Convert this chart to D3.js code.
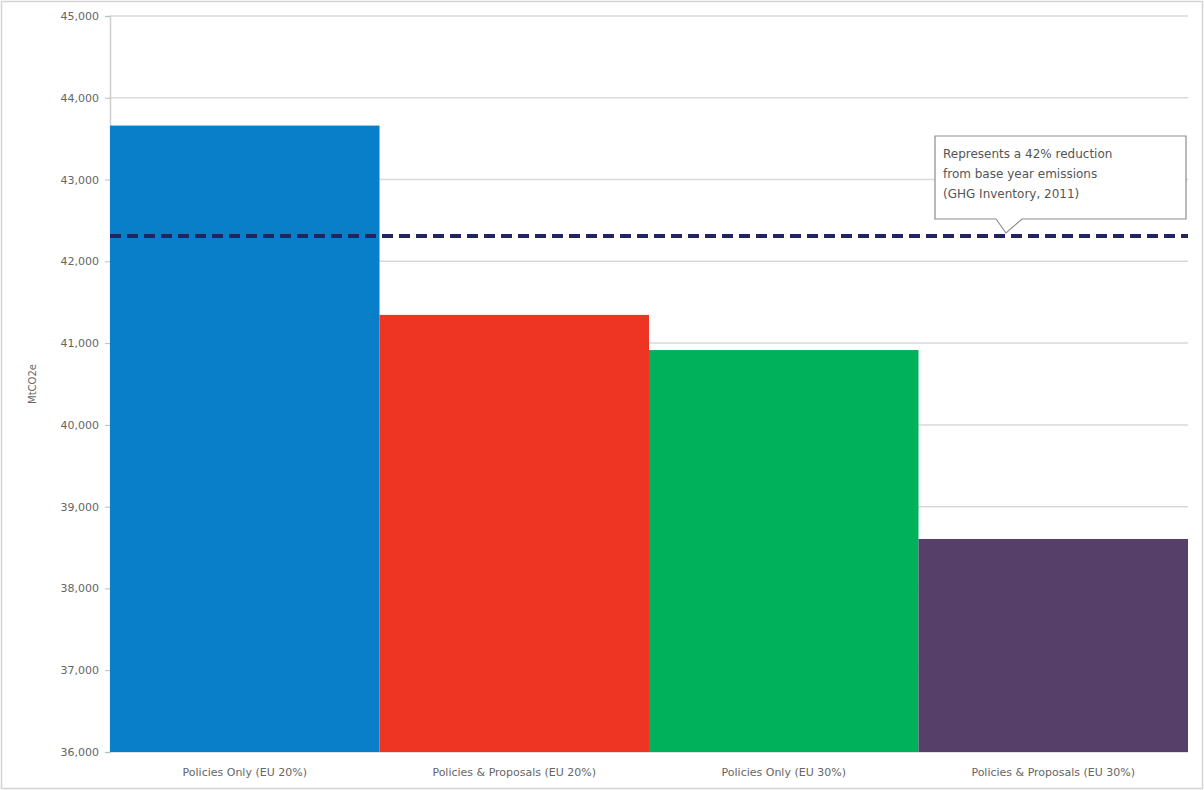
<!DOCTYPE html>
<html>
<head>
<meta charset="utf-8">
<script src="https://cdn.jsdelivr.net/npm/d3@7"></script>
<style>
body { margin: 0; background: #fff; }
text { font-family: "DejaVu Sans", Verdana, sans-serif; }
</style>
</head>
<body>
<svg id="chart" width="1204" height="790"></svg>
<script>
// scenario data
var Categories = ["Policies Only (EU 20%)", "Policies & Proposals (EU 20%)", "Policies Only (EU 30%)", "Policies & Proposals (EU 30%)"];
var Emissions = [43660, 41345, 40915, 38605];
var BarColors = ["#0a7fc9", "#ee3524", "#00b15c", "#563f68"];
var TickValues = [36000, 37000, 38000, 39000, 40000, 41000, 42000, 43000, 44000, 45000];
var TargetLine = 42310;
var CalloutLines = ["Represents a 42% reduction", "from base year emissions", "(GHG Inventory, 2011)"];

var svg = d3.select("#chart");
var margin = {left: 110, right: 16, top: 16, bottom: 38};
var W = 1204, H = 790;

// outer frame
svg.append("rect")
    .attr("x", 1.5).attr("y", 1.5)
    .attr("width", W - 3).attr("height", H - 3)
    .attr("fill", "#fff").attr("stroke", "#d4d4d4").attr("stroke-width", 1.5);

var x = d3.scaleBand()
    .domain(Categories)
    .range([margin.left, W - margin.right])
    .padding(0);

var y = d3.scaleLinear()
    .domain([36000, 45000])
    .range([H - margin.bottom, margin.top]);

// gridlines
svg.append("g").selectAll("line")
    .data(TickValues)
    .enter().append("line")
    .attr("x1", margin.left).attr("x2", W - margin.right)
    .attr("y1", function(d){ return y(d); })
    .attr("y2", function(d){ return y(d); })
    .attr("stroke", "#d9d9d9").attr("stroke-width", 1.5);

// y axis
var yAxis = d3.axisLeft(y)
    .tickValues(TickValues)
    .tickSize(5)
    .tickPadding(6)
    .tickFormat(d3.format(","));
var ya = svg.append("g")
    .attr("transform", "translate(" + margin.left + ",0)")
    .call(yAxis);
ya.select(".domain").attr("stroke", "#cfcfcf").attr("stroke-width", 1.5);
ya.selectAll(".tick line").attr("stroke", "#bdbdbd");
ya.selectAll(".tick text").attr("fill", "#666").style("font-size", "11px");

// bars
svg.append("g").selectAll("rect")
    .data(Emissions)
    .enter().append("rect")
    .attr("x", function(d,i){ return x(Categories[i]); })
    .attr("width", x.bandwidth())
    .attr("y", function(d){ return y(d); })
    .attr("height", function(d){ return y(36000) - y(d); })
    .attr("fill", function(d,i){ return BarColors[i]; });

// x labels
svg.append("g").selectAll("text")
    .data(Categories)
    .enter().append("text")
    .attr("x", function(d){ return x(d) + x.bandwidth()/2; })
    .attr("y", H - margin.bottom + 24)
    .attr("text-anchor", "middle")
    .attr("fill", "#666")
    .style("font-size", "11px")
    .text(function(d){ return d; });

// y axis title
svg.append("text")
    .attr("transform", "translate(36," + y(40500) + ") rotate(-90)")
    .attr("text-anchor", "middle")
    .attr("fill", "#666")
    .style("font-size", "10px")
    .text("MtCO2e");

// target dashed line
svg.append("line")
    .attr("x1", margin.left).attr("x2", W - margin.right)
    .attr("y1", y(TargetLine)).attr("y2", y(TargetLine))
    .attr("stroke", "#22245e").attr("stroke-width", 4)
    .attr("stroke-dasharray", "11,6");

// callout
var bx = 935, by = 136, bw = 251, bh = 83, px = 1006;
var ty = y(TargetLine) - 3;
svg.append("path")
    .attr("d", "M" + bx + "," + by + " H" + (bx + bw) + " V" + (by + bh) +
        " H" + (px + 16) + " L" + px + "," + ty + " L" + (px - 10) + "," + (by + bh) +
        " H" + bx + " Z")
    .attr("fill", "#fff").attr("stroke", "#8c8c8c").attr("stroke-width", 1.2);

svg.append("g").selectAll("text")
    .data(CalloutLines)
    .enter().append("text")
    .attr("x", bx + 8)
    .attr("y", function(d,i){ return by + 22 + i*20; })
    .attr("fill", "#555")
    .style("font-size", "12px")
    .text(function(d){ return d; });
</script>
</body>
</html>
